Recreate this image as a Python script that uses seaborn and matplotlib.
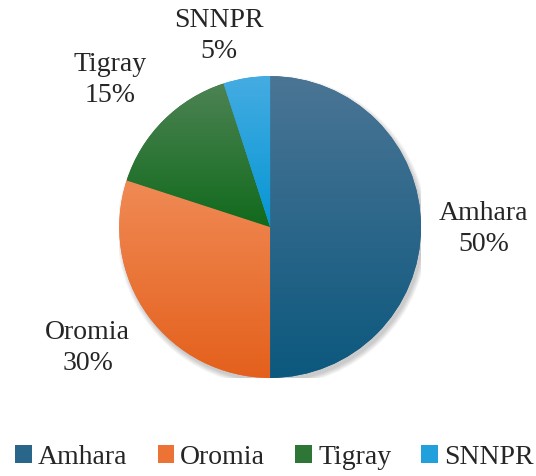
import numpy as np
import matplotlib
matplotlib.use("Agg")
import matplotlib.pyplot as plt
import seaborn as sns
from matplotlib.colors import LinearSegmentedColormap
from matplotlib.patches import Ellipse

regions = ["Amhara", "Oromia", "Tigray", "SNNPR"]
shares = [50, 30, 15, 5]

# gradient colours per wedge (top, bottom)
top_colors = ["#4b7595", "#f08a55", "#4d8354", "#45ace2"]
bottom_colors = ["#0c587e", "#e4601c", "#116a1c", "#0596d4"]
legend_colors = ["#2a6689", "#ec7236", "#2d7636", "#22a0db"]

sns.set_theme(style="white")
plt.rcParams["font.family"] = "serif"
plt.rcParams["font.serif"] = ["Liberation Serif", "Times New Roman", "DejaVu Serif"]

fig = plt.figure(figsize=(5.36, 4.76), dpi=100)
ax = fig.add_axes([0.504 - 0.2815, 0.523 - 0.317, 0.563, 0.634])

# soft shadow below the pie
for k in range(6):
    ax.add_patch(Ellipse((0.015, -0.025), 2 + k * 0.012, 2 + k * 0.012,
                         color="black", alpha=0.035, lw=0, zorder=0))

wedges, _ = ax.pie(shares, colors=legend_colors, startangle=90, counterclock=False,
                   radius=1.0, wedgeprops=dict(linewidth=0, zorder=1))

# vertical gradient inside each wedge
grad = np.linspace(0, 1, 256).reshape(-1, 1)
for w, c0, c1 in zip(wedges, top_colors, bottom_colors):
    ext = w.get_path().get_extents()
    cmap = LinearSegmentedColormap.from_list("g", [c1, c0])
    im = ax.imshow(grad, cmap=cmap, aspect="auto", origin="lower",
                   extent=[ext.x0, ext.x1, ext.y0, ext.y1], zorder=1.5)
    im.set_clip_path(w)

# labels
label_dist = [1.417, 1.45, 1.44, 1.31]
label_shift = [-0.5, -2.5, 2.4, 6]
for w, name, val, d, s in zip(wedges, regions, shares, label_dist, label_shift):
    ang = np.deg2rad((w.theta1 + w.theta2) / 2 + s)
    ax.text(d * np.cos(ang), d * np.sin(ang), f"{name}\n{val}%",
            ha="center", va="center", fontsize=20, linespacing=1.3)

ax.set_xlim(-1, 1)
ax.set_ylim(-1, 1)
ax.set_aspect("auto")
ax.axis("off")

fig.legend(wedges, regions, loc="center", ncol=4, frameon=False,
           fontsize=20, handlelength=0.6, handleheight=0.6, handletextpad=0.22,
           columnspacing=1.08, borderpad=0, bbox_to_anchor=(0.512, 1 - 457 / 476))

fig.savefig("out.png", dpi=100)
